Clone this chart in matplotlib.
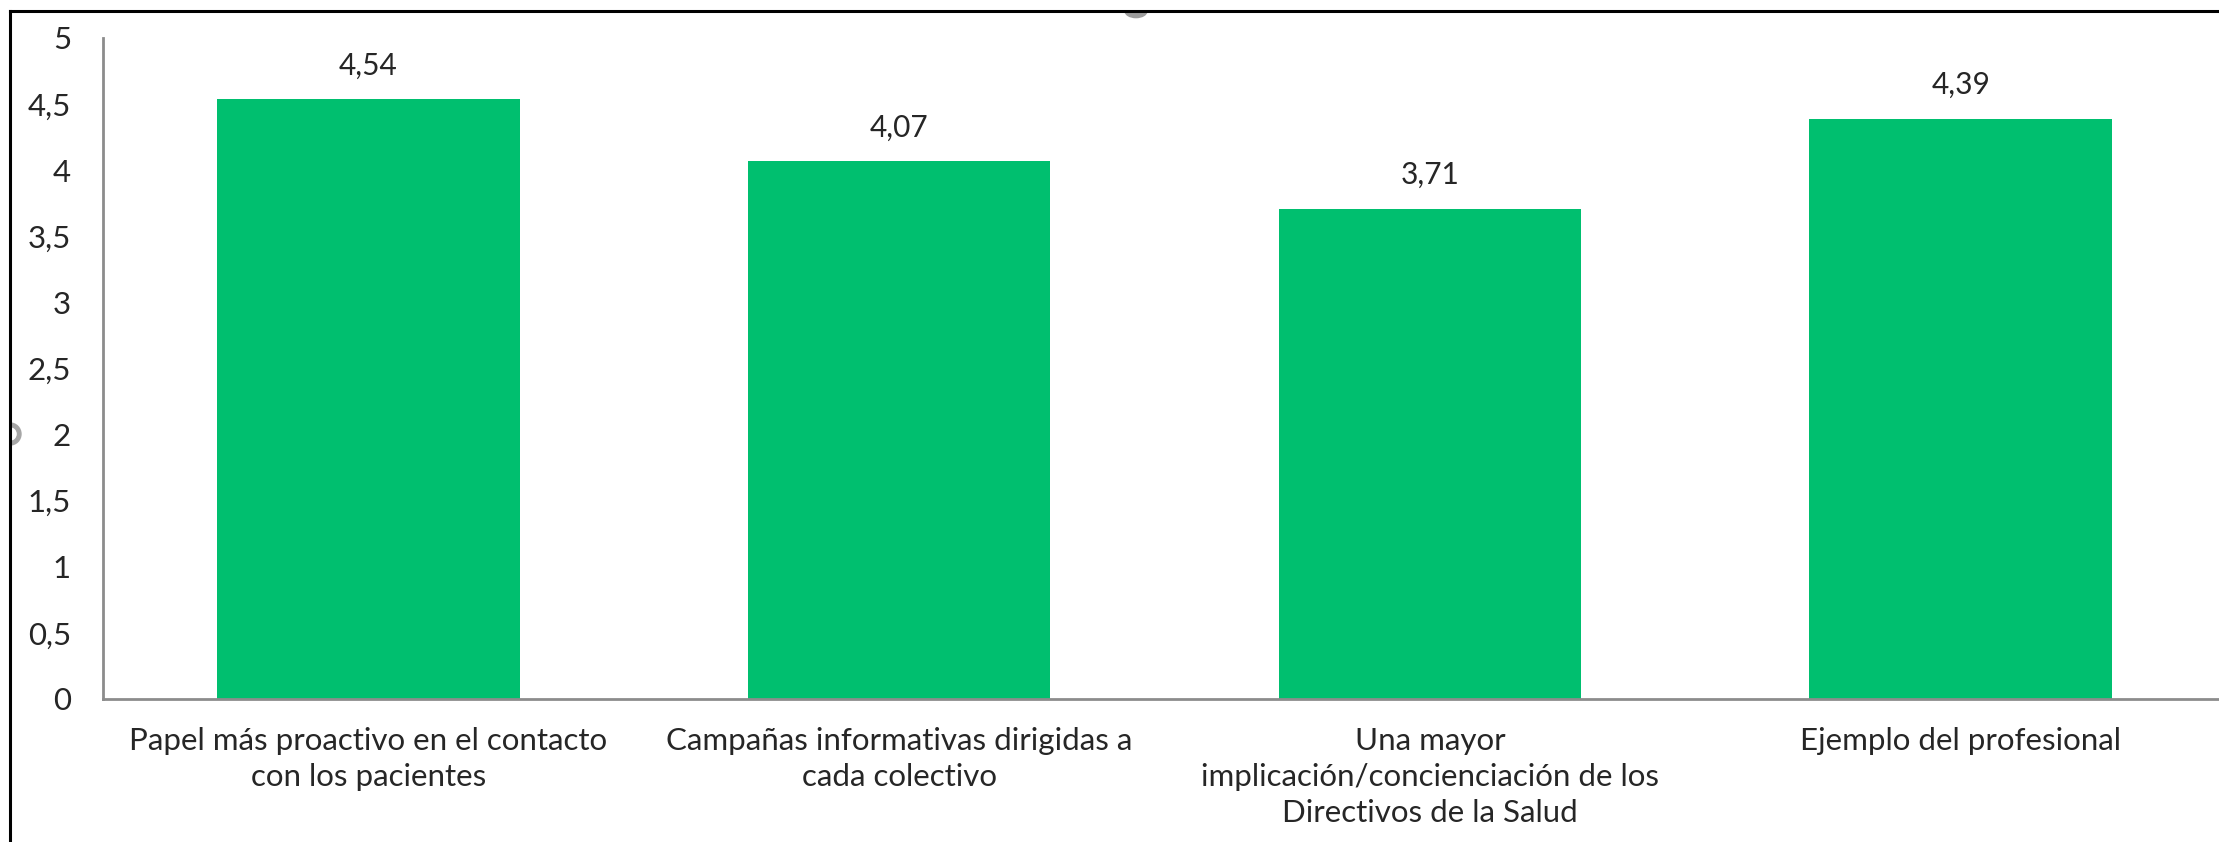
import matplotlib.pyplot as plt
import matplotlib.patches as mpatches
from matplotlib.lines import Line2D
from matplotlib.transforms import Affine2D

plt.rcParams['font.family'] = ['Lato', 'DejaVu Sans']

categories = ['Papel más proactivo en el contacto\ncon los pacientes',
              'Campañas informativas dirigidas a\ncada colectivo',
              'Una mayor\nimplicación/concienciación de los\nDirectivos de la Salud',
              'Ejemplo del profesional']
values = [4.54, 4.07, 3.71, 4.39]
yticks = [0, 0.5, 1, 1.5, 2, 2.5, 3, 3.5, 4, 4.5, 5]
ytick_labels = ['0', '0,5', '1', '1,5', '2', '2,5', '3', '3,5', '4', '4,5', '5']

bar_color = '#00BF6F'
text_color = '#262626'
axis_color = '#8C8C8C'

W, H = 2219, 842
fig = plt.figure(figsize=(W / 100, H / 100), dpi=100)
ax = fig.add_axes([103 / W, 143 / H, 2123 / W, 661 / H])

x = range(len(categories))
ax.bar(x, values, width=0.57, color=bar_color, zorder=2)

for xi, v in zip(x, values):
    ax.annotate(('%.2f' % v).replace('.', ','), (xi, v), xytext=(0, 14),
                textcoords='offset points', ha='center', va='bottom',
                fontsize=21.5, color=text_color)

ax.set_xlim(-0.5, 3.5)
ax.set_ylim(0, 5)
ax.set_yticks(yticks)
ax.set_yticklabels(ytick_labels)
ax.set_xticks(list(x))
ax.set_xticklabels(categories, linespacing=1.36)
ax.tick_params(axis='y', length=0, pad=23, labelsize=22.5, labelcolor=text_color)
ax.tick_params(axis='x', length=0, pad=20, labelsize=22.5, labelcolor=text_color)

for s in ['top', 'right']:
    ax.spines[s].set_visible(False)
for s in ['left', 'bottom']:
    ax.spines[s].set_color(axis_color)
    ax.spines[s].set_linewidth(2)

# frame of the chart area (screenshot) and the resize handles
fig.add_artist(Line2D([10 / W, 10 / W], [0, 831 / H], color='black', lw=2.2))
fig.add_artist(Line2D([10 / W, 1], [831 / H, 831 / H], color='black', lw=2.2))
top_handle = mpatches.Wedge((0, 0), 11, 180, 360, color='#9c9c9c',
                            transform=Affine2D().scale(1, 0.6).translate(1136, H - 11))
left_handle = mpatches.Wedge((0, 0), 11, -90, 90, width=3.5, color='#a6a6a6',
                             transform=Affine2D().translate(10, H - 434))
fig.add_artist(top_handle)
fig.add_artist(left_handle)

fig.savefig('out.png', dpi=100)
